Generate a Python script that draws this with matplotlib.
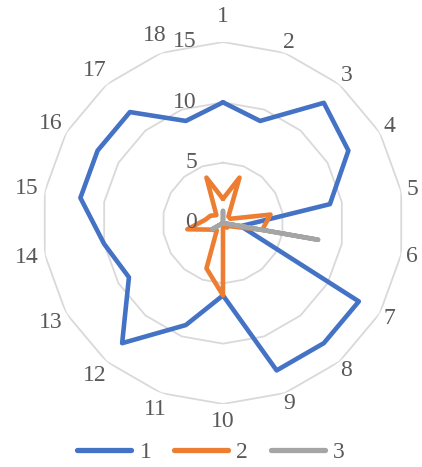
import numpy as np
import matplotlib.pyplot as plt
from matplotlib.transforms import offset_copy

plt.rcParams['font.family'] = ['Liberation Serif', 'DejaVu Serif']

# [Data]______________________________________________________________
categories = [str(i) for i in range(1, 19)]
series_names = ['1', '2', '3']
s1 = [10, 9, 13, 12, 9, 1.5, 13, 13, 13, 6, 9, 13, 9, 10, 12, 12, 12, 9]
s2 = [2, 4, 0.7, 0.7, 4, 3.3, 0.5, 0.5, 0, 6, 4, 0.8, 1.1, 3, 1.5, 1.2, 0.85, 4]
s3 = [1, 0, 0, 0, 0, 8, 0, 0, 0, 0, 0, 0, 1, 0, 0, 0, 0, 0]
r_ticks = [0, 5, 10, 15]

colors = ['#4472C4', '#ED7D31', '#A5A5A5']
text_color = '#595959'
grid_color = '#D9D9D9'

# [Plot]______________________________________________________________
n = len(categories)
theta = np.deg2rad(np.arange(n) * 360.0 / n)
theta_c = np.append(theta, theta[0])

fig = plt.figure(figsize=(4.22, 4.67), dpi=100)
ax = fig.add_axes([0.0995, 0.1349, 0.8578, 0.7752], projection='polar')
ax.set_theta_zero_location('N')
ax.set_theta_direction(-1)
ax.set_ylim(0, 15)
ax.grid(False)
ax.spines['polar'].set_visible(False)
ax.set_xticks([])
ax.set_yticks([])

# polygon rings
for r in r_ticks[1:]:
    ax.plot(theta_c, [r] * (n + 1), color=grid_color, lw=1.3, zorder=1)

for vals, col, name in zip([s1, s2, s3], colors, series_names):
    ax.plot(theta_c, list(vals) + [vals[0]], color=col, lw=3.3,
            solid_joinstyle='round', solid_capstyle='round', label=name, zorder=3)

# radial labels
lab_tr = offset_copy(ax.transData, fig=fig, x=-26, y=0, units='dots')
for r in r_ticks:
    ax.text(0, r, str(r), transform=lab_tr, ha='right', va='center',
            fontsize=17, color=text_color)

# category labels
px_per_unit = 181 / 15.0
for t, lab in zip(theta, categories):
    rpx = 192 if len(lab) == 1 else 199
    if abs(t) < 1e-6:
        rpx += 14
    ax.text(t, rpx / px_per_unit, lab, ha='center', va='center',
            fontsize=17, color=text_color, clip_on=False)

leg = fig.legend(loc='center', bbox_to_anchor=(0.5, 0.032), ncol=3, frameon=False,
                 handlelength=2.3, handletextpad=0.35, columnspacing=0.95,
                 fontsize=17, labelcolor=text_color)
for h in leg.get_lines():
    h.set_linewidth(3.8)

plt.savefig('out.png', dpi=100)
